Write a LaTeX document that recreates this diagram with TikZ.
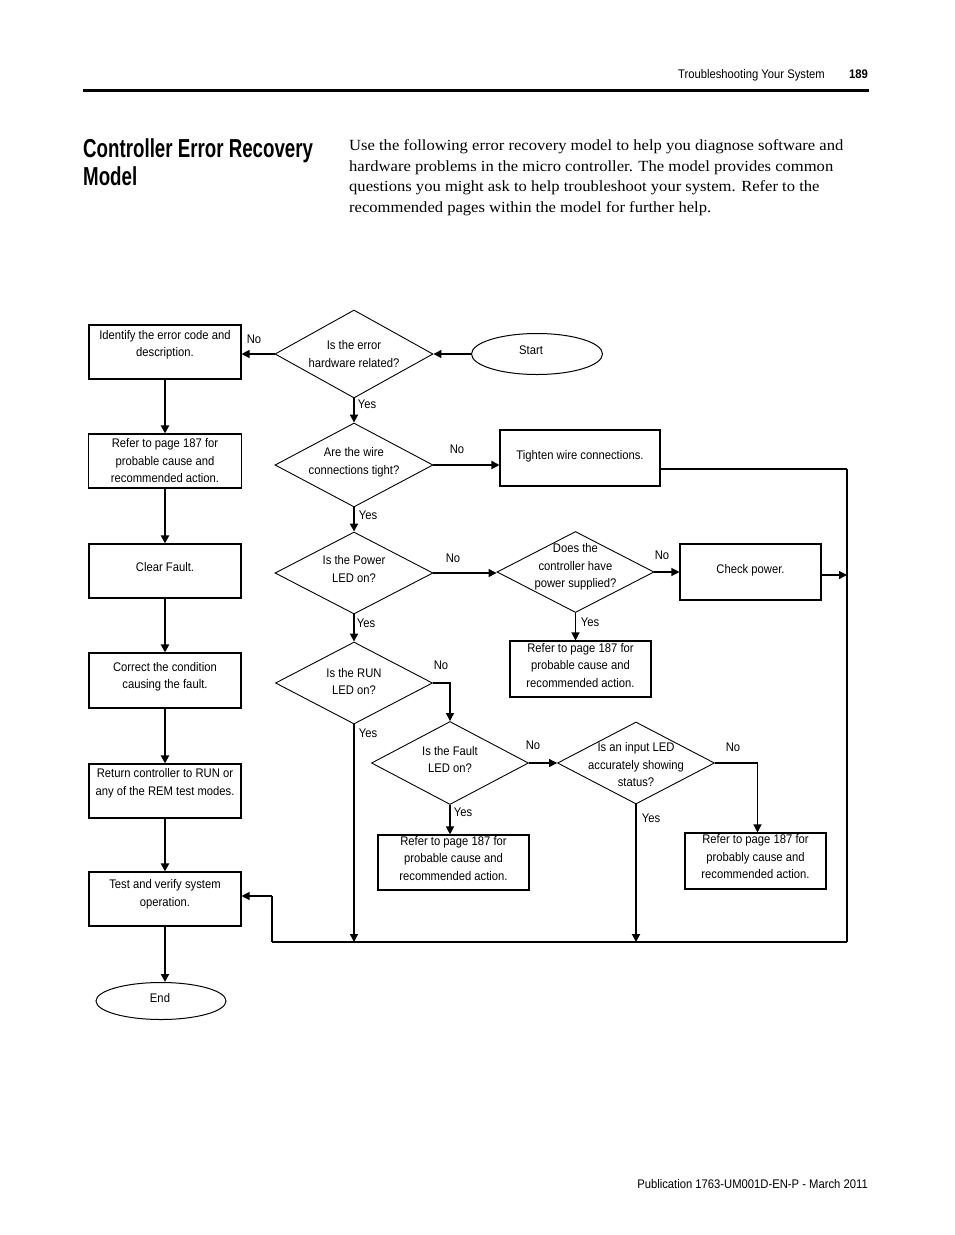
\documentclass[tikz,border=0pt]{standalone}
\usepackage{fontspec}
\setmainfont{Liberation Serif}[FakeStretch=1.07]
\newfontfamily\dfont[FakeStretch=0.9]{Liberation Sans}
\newfontfamily\hfont[FakeStretch=0.72]{Liberation Sans}
\usetikzlibrary{shapes.geometric,arrows.meta}
\begin{document}
\begin{tikzpicture}[x=1pt,y=-1pt,
  dtxt/.style={font=\dfont\fontsize{12.5}{17.5}\selectfont, align=center, inner sep=0pt},
  box/.style={draw, line width=1.1pt, minimum width=#1, minimum height=55pt, inner sep=0pt},
  box/.default=152pt,
  dia/.style={draw, diamond, line width=0.9pt, minimum width=158pt, minimum height=83pt, inner sep=0pt},
  oval/.style={draw, ellipse, line width=1pt, inner sep=0pt},
  arr/.style={-{Triangle[length=8pt,width=8pt]}},
  thk/.style={line width=2.4pt},
  med/.style={line width=1.9pt},
  thn/.style={line width=1.2pt},
  body/.style={font=\fontsize{15.5}{20.5}\selectfont, inner sep=0pt, anchor=base west}
]
\useasboundingbox (0,0) rectangle (954,1235);
\fill[white] (0,0) rectangle (954,1235);

% header
\node[dtxt, anchor=base east] (hdr) at (825,78.5) {Troubleshooting Your System};
\node[dtxt, anchor=base east, font=\dfont\bfseries\fontsize{12.5}{14}\selectfont] (pg) at (868,78.5) {189};
\draw[line width=3pt] (83,90) -- (869,90);

% title
\node[inner sep=0pt, anchor=base west, font=\hfont\bfseries\fontsize{26}{28}\selectfont] (t1) at (83,157) {Controller Error Recovery};
\node[inner sep=0pt, anchor=base west, font=\hfont\bfseries\fontsize{26}{28}\selectfont] (t2) at (83,185) {Model};

% body text
\node[body] (b1) at (349,150) {Use the following error recovery model to help you diagnose software and};
\node[body] (b2) at (349,171) {hardware problems in the micro controller. The model provides common};
\node[body] (b3) at (349,191) {questions you might ask to help troubleshoot your system. Refer to the};
\node[body] (b4) at (349,212) {recommended pages within the model for further help.};

% left column boxes
\node[box, minimum height=54pt, label={[dtxt,yshift=7pt]center:Identify the error code and\\description.}] (id) at (165,352) {};
\node[box=153pt, minimum height=54pt, label={[dtxt]center:Refer to page 187 for\\probable cause and\\recommended action.}] (ref1) at (165,461) {};
\node[box, minimum height=54pt, label={[dtxt,yshift=4pt]center:Clear Fault.}] (cf) at (165,571) {};
\node[box, label={[dtxt,yshift=3.5pt]center:Correct the condition\\causing the fault.}] (cc) at (165,680.5) {};
\node[box, minimum height=54pt, label={[dtxt,yshift=7.5pt]center:Return controller to RUN or\\any of the REM test modes.}] (rc) at (165,791) {};
\node[box, minimum height=54pt, label={[dtxt,yshift=4.5pt]center:Test and verify system\\operation.}] (tv) at (165,899) {};
\node[oval, minimum width=130pt, minimum height=37pt, label={[dtxt,yshift=3pt,xshift=-1pt]center:End}] (en) at (161,1001) {};

% start
\node[oval, minimum width=131pt, minimum height=41pt, label={[dtxt,yshift=4pt,xshift=-6pt]center:Start}] (st) at (537,354) {};

% diamonds
\node[dia, minimum height=88pt, label={[dtxt]center:Is the error\\hardware related?}] (d1) at (354,354) {};
\node[dia, minimum height=84pt, label={[dtxt,yshift=2.5pt]center:Are the wire\\connections tight?}] (d2) at (354,465) {};
\node[dia, minimum height=82pt, label={[dtxt,yshift=4pt]center:Is the Power\\LED on?}] (d3) at (354,573) {};
\node[dia, minimum width=157pt, minimum height=81pt, label={[dtxt,yshift=5pt]center:Does the\\controller have\\power supplied?}] (d4) at (575.5,572) {};
\node[dia, minimum width=157pt, minimum height=82pt, label={[dtxt,yshift=1.5pt]center:Is the RUN\\LED on?}] (d5) at (354,683) {};
\node[dia, minimum width=157pt, minimum height=83pt, label={[dtxt,yshift=3.5pt]center:Is the Fault\\LED on?}] (d6) at (450,763) {};
\node[dia, minimum width=157pt, minimum height=82pt, label={[dtxt,yshift=-2pt]center:Is an input LED\\accurately showing\\status?}] (d7) at (636,763) {};

% right side boxes
\node[box=160pt, minimum height=56pt, label={[dtxt,yshift=2pt]center:Tighten wire connections.}] (tw) at (580,458) {};
\node[box=141pt, minimum height=56pt, label={[dtxt,yshift=2pt]center:Check power.}] (cp) at (750.5,572) {};
\node[box=141pt, minimum height=56pt, label={[dtxt,yshift=3.5pt]center:Refer to page 187 for\\probable cause and\\recommended action.}] (r2) at (580.5,669) {};
\node[box=151pt, label={[dtxt,yshift=4pt]center:Refer to page 187 for\\probable cause and\\recommended action.}] (r3) at (453.5,862.5) {};
\node[box=141pt, minimum height=56pt, label={[dtxt,yshift=4pt]center:Refer to page 187 for\\probably cause and\\recommended action.}] (r4) at (755.5,861) {};

% frame coordinates
\coordinate (rt) at (847,469);
\coordinate (rb) at (847,942);
\coordinate (lb) at (272,942);
\coordinate (lu) at (272,896);

% left column arrows
\draw[thk,arr] (id.south) -- (ref1.north);
\draw[thk,arr] (ref1.south) -- (cf.north);
\draw[thk,arr] (cf.south) -- (cc.north);
\draw[thk,arr] (cc.south) -- (rc.north);
\draw[thk,arr] (rc.south) -- (tv.north);
\draw[thk,arr] (tv.south) -- (tv.south |- en.north);

% main flow
\draw[thn,arr] (st.west) -- (d1.east);
\draw[thn,arr] (d1.west) -- (d1.west -| id.east);
\draw[med,arr] (d1.south) -- (d2.north);
\draw[med,arr] (d2.east) -- (d2.east -| tw.west);
\draw[med,arr] (d2.south) -- (d3.north);
\draw[thn,arr] (d3.east) -- (d3.east -| d4.west);
\draw[thn,arr] (d4.east) -- (d4.east -| cp.west);
\draw[thn,arr] (d4.south) -- (d4.south |- r2.north);
\draw[med,arr] (d3.south) -- (d5.north);
\draw[thn,arr] (d5.east) -| (d6.north);
\draw[thn,arr] (d5.south) -- (d5.south |- lb);
\draw[thn,arr] (d6.east) -- (d7.west);
\draw[thn,arr] (d6.south) -- (d6.south |- r3.north);
\draw[thn,arr] (d7.east) -| ([xshift=2pt]r4.north);
\draw[med,arr] (d7.south) -- (d7.south |- lb);

% return frame
\draw[thn] ([yshift=-11pt]tw.east) -- (rt);
\draw[line width=1.6pt] (rt) -- (rb);
\draw[thn] (rb) -- (lb);
\draw[line width=1.6pt] (lb) -- (lu);
\draw[thn,arr] (lu) -- (lu -| tv.east);
\draw[thn,arr] ([yshift=-3pt]cp.east) -- ([yshift=-3pt]cp.east -| rt);

% yes / no labels
\node[dtxt] (n1) at (254,339) {No};
\node[dtxt] (y1) at (367,404) {Yes};
\node[dtxt] (n2) at (457,449) {No};
\node[dtxt] (y2) at (368,515) {Yes};
\node[dtxt] (n3) at (453,558) {No};
\node[dtxt] (n4) at (662,555) {No};
\node[dtxt] (y3) at (366,623) {Yes};
\node[dtxt] (y4) at (590,622) {Yes};
\node[dtxt] (n5) at (441,665) {No};
\node[dtxt] (y5) at (368,733) {Yes};
\node[dtxt] (n6) at (533,745) {No};
\node[dtxt] (y6) at (463,812) {Yes};
\node[dtxt] (n7) at (733,747) {No};
\node[dtxt] (y7) at (651,818) {Yes};

% footer
\node[dtxt, anchor=base east] (ft) at (868,1188.5) {Publication 1763-UM001D-EN-P - March 2011};
\end{tikzpicture}
\end{document}
